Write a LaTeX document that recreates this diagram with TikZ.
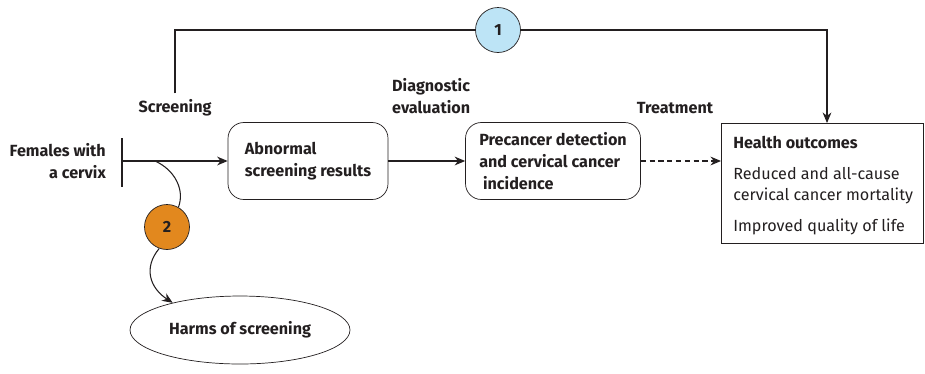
\documentclass[tikz,border=0pt]{standalone}
\usepackage{fontspec}
\setmainfont{Fira Sans}
\usetikzlibrary{shapes.geometric,arrows.meta}
\definecolor{kqblue}{HTML}{BDE4F6}
\definecolor{kqorange}{HTML}{E2881E}
\definecolor{inkgray}{HTML}{231F20}
\begin{document}
\begin{tikzpicture}[x=0.02cm, y=-0.02cm,
  font=\fontsize{9.2}{12.4}\selectfont, color=inkgray,
  kqbox/.style = {draw, rounded corners=9pt, minimum width=3.2cm, minimum height=1.54cm, align=left, font=\fontsize{9.2}{12.4}\selectfont\bfseries},
  kqnum/.style = {draw, circle, minimum size=0.9cm, inner sep=0pt, font=\fontsize{9.2}{11}\selectfont\bfseries},
  kqlbl/.style = {font=\fontsize{9.2}{12.4}\selectfont\bfseries},
  kqarrow/.style = {-{Stealth[length=6pt, width=5pt]}, semithick}
]
  \useasboundingbox (0,0) rectangle (925,373);
  % population
  \node[kqlbl, align=right, anchor=east] (pop) at (112,161) {Females with\\a cervix};
  \coordinate (barT) at (122,138);
  \coordinate (barB) at (122,187);
  \draw[semithick] (barT) -- (barB);
  \coordinate (start) at (122,161);
  % boxes
  \node[kqbox] (abn) at (308,161) {Abnormal\\screening results};
  \node[kqbox, minimum width=3.5cm] (pre) at (553,161) {Precancer detection\\and cervical cancer\\\ incidence};
  \node[draw, rectangle, minimum width=4.04cm, minimum height=2.4cm, anchor=north west] (out) at (721,123) {};
  \node[anchor=north west, align=left, inner sep=0pt] (outtxt) at (733,136)
    {\textbf{Health outcomes}\\[5pt]Reduced and all-cause\\cervical cancer mortality\\[5pt]Improved quality of life};
  \node[draw, ellipse, minimum width=4.4cm, minimum height=1.36cm, kqlbl] (harm) at (240,330) {Harms of screening};
  % step labels
  \node[kqlbl] (scr) at (175,108) {Screening};
  \node[kqlbl, align=left, anchor=west] (diag) at (386,96) {Diagnostic\\evaluation};
  \node[kqlbl] (trt) at (675,108) {Treatment};
  % connectors
  \draw[kqarrow] (start) -- (abn);
  \draw[kqarrow] (abn) -- (pre);
  \draw[kqarrow, dash pattern=on 3pt off 2pt] (pre.east) -- (pre.east -| out.west);
  % overarching question
  \node[kqnum, fill=kqblue] (kq1) at (498,30) {1};
  \coordinate (topL) at (175,30);
  \coordinate (topR) at (827,30);
  \draw[semithick] (scr.north) -- (topL) -- (kq1);
  \draw[kqarrow] (kq1) -- (topR) -- (out.north -| topR);
  % harms
  \node[kqnum, fill=kqorange] (kq2) at (167,227) {2};
  \coordinate (branch) at (155,161);
  \draw[semithick] (branch) .. controls (175,170) and (185,190) .. (kq2.60);
  \draw[kqarrow] (kq2.250) .. controls (143,268) and (150,288) .. (harm.158);
\end{tikzpicture}
\end{document}
